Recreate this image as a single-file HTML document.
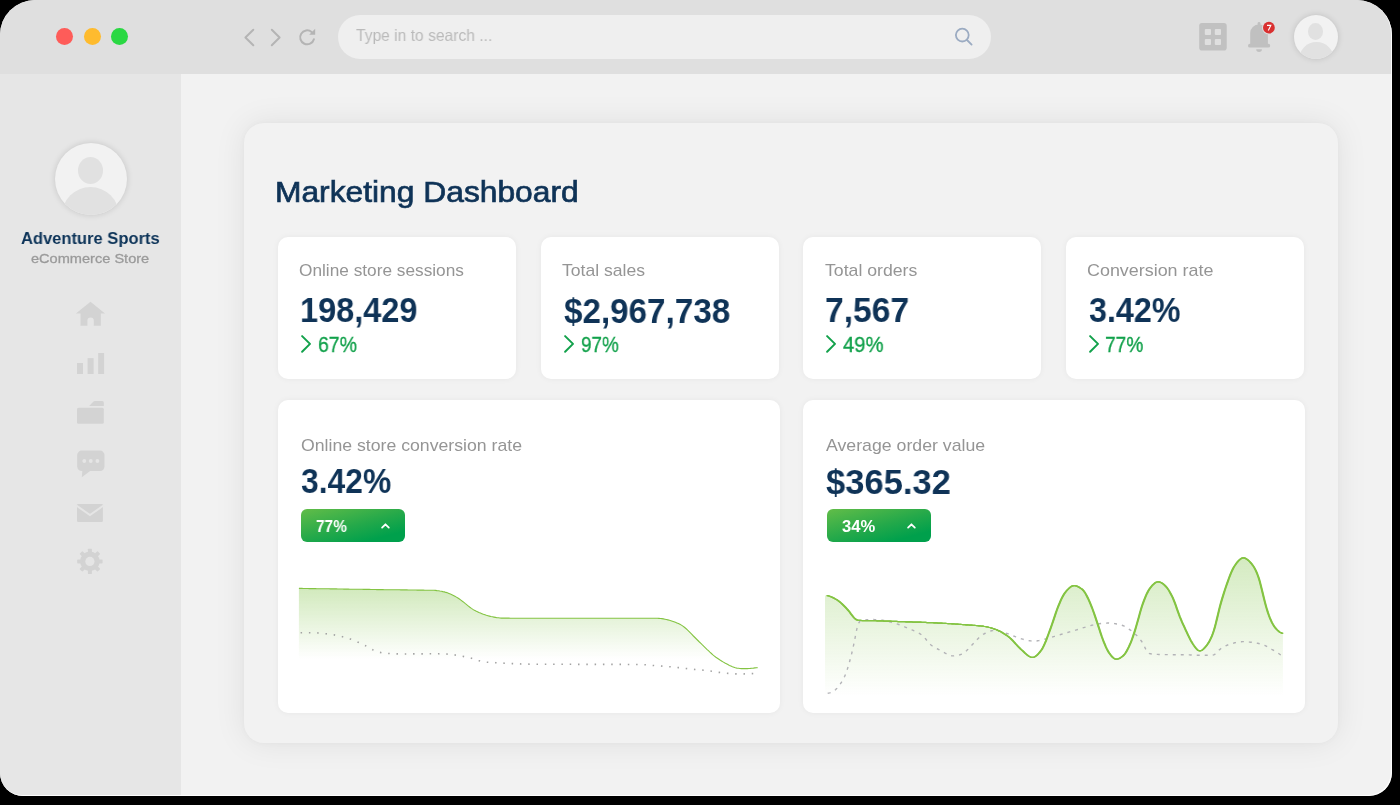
<!DOCTYPE html>
<html><head><meta charset="utf-8"><title>Marketing Dashboard</title>
<style>
html,body{margin:0;padding:0;background:#000;width:1400px;height:805px;overflow:hidden}
.win{position:absolute;left:0;top:0;width:1392px;height:796px;border-radius:35px 35px 23px 23px;overflow:hidden;background:#f2f2f2}
.abs{position:absolute}
.t{position:absolute;white-space:nowrap;line-height:1;font-family:'Liberation Sans', sans-serif;will-change:transform}
.titlebar{position:absolute;left:0;top:0;width:1392px;height:74px;background:#dfdfdf}
.sidebar{position:absolute;left:0;top:74px;width:181px;height:722px;background:#e6e6e6}
.dot{position:absolute;width:17px;height:17px;border-radius:50%}
.avatar{border-radius:50%;background:#f2f2f2;overflow:hidden;box-shadow:0 0 6px rgba(0,0,0,0.15)}
.panel{position:absolute;left:244px;top:123px;width:1094px;height:620px;border-radius:20px;background:#f2f2f2;box-shadow:0 0 6px rgba(0,0,0,0.03),0 0 32px rgba(0,0,0,0.08)}
.card{position:absolute;background:#fff;border-radius:10px;box-shadow:0 0 6px rgba(0,0,0,0.05)}
.badge{position:absolute;width:104px;height:33px;border-radius:6px;background:linear-gradient(165deg,#62bd48 0%,#25a94a 50%,#00a04c 82%)}
.edge{position:absolute;left:0;top:0;width:1392px;height:796px;border-radius:35px 35px 23px 23px;box-shadow:inset -1px -1px 0 rgba(255,255,255,0.9);pointer-events:none}
</style></head>
<body><div class="win">
<div class="titlebar"></div>
<div class="dot" style="left:55.9px;top:28.3px;background:#fe5c59"></div>
<div class="dot" style="left:83.5px;top:28.3px;background:#febb2e"></div>
<div class="dot" style="left:111px;top:28.3px;background:#2ad843"></div>
<svg class="abs" style="left:0;top:0" width="340" height="74" viewBox="0 0 340 74">
<g fill="none" stroke="#b4b4b4" stroke-width="2" stroke-linecap="round" stroke-linejoin="round">
<polyline points="253.3,29.8 245.4,37.5 253.3,45.2"/>
<polyline points="271.8,29.8 279.6,37.5 271.8,45.2"/>
<path d="M313.9 39.2 A7 7 0 1 1 311.6 31.9"/>
</g>
<polygon points="309.2,34.8 315.2,34.8 315.2,28.8" fill="#b4b4b4"/>
</svg>
<div class="abs" style="left:338px;top:15px;width:653px;height:44px;border-radius:22px;background:#efefef"></div>
<div class="t" style="left:355.90px;top:27.08px;font-size:16.5px;color:#bababa;font-weight:400;transform:scaleX(0.9461538461538462);transform-origin:0 0;">Type in to search ...</div>
<svg class="abs" style="left:950px;top:24px" width="28" height="26" viewBox="950 24 28 26">
<g fill="none" stroke="#9babc2" stroke-width="1.8" stroke-linecap="round">
<circle cx="962.3" cy="35.1" r="6.4"/>
<line x1="967" y1="40" x2="971.6" y2="44.6"/>
</g></svg>
<svg class="abs" style="left:1195px;top:18px" width="40" height="40" viewBox="1195 18 40 40">
<rect x="1199.2" y="23" width="27.5" height="27.6" rx="2.8" fill="#c1c1c1"/>
<g fill="#dfdfdf">
<rect x="1204.8" y="29" width="6.2" height="6" rx="1"/>
<rect x="1214.8" y="29" width="6.2" height="6" rx="1"/>
<rect x="1204.8" y="38.9" width="6.2" height="6.2" rx="1"/>
<rect x="1214.8" y="38.9" width="6.2" height="6.2" rx="1"/>
</g></svg>
<svg class="abs" style="left:1243px;top:18px" width="40" height="40" viewBox="1243 18 40 40">
<g fill="#c0c0c0">
<rect x="1257.6" y="22" width="2.9" height="4" rx="1.4"/>
<path d="M1250.2 44.5 L1250.2 33 A8.85 8.4 0 0 1 1267.9 33 L1267.9 44.5 Z"/>
<rect x="1248" y="43.8" width="22.2" height="3.8" rx="1.9"/>
<path d="M1256.2 49.2 L1261.9 49.2 Q1261.9 51.9 1259.05 51.9 Q1256.2 51.9 1256.2 49.2 Z"/>
</g>
<circle cx="1268.9" cy="27.7" r="6.9" fill="#dfdfdf"/>
<circle cx="1268.9" cy="27.7" r="5.9" fill="#d93030"/>
<path d="M1267 25.4 L1270.8 25.4 L1268.3 30.4" fill="none" stroke="#fff" stroke-width="1.1" stroke-linejoin="miter"/>
</svg>
<div class="abs avatar" style="left:1294px;top:15px;width:44px;height:44px">
<div class="abs" style="left:14.2px;top:8.3px;width:15.2px;height:16.6px;border-radius:50%;background:#e1e1e1"></div>
<div class="abs" style="left:4.5px;top:27.4px;width:35px;height:35px;border-radius:50%;background:#e1e1e1"></div>
</div>
<div class="sidebar"></div>
<div class="abs avatar" style="left:54.7px;top:142.7px;width:72px;height:72px">
<div class="abs" style="left:23.3px;top:14.8px;width:25px;height:26.5px;border-radius:50%;background:#e1e1e1"></div>
<div class="abs" style="left:7.5px;top:44.5px;width:57px;height:57px;border-radius:50%;background:#e1e1e1"></div>
</div>
<div class="t" style="left:21.20px;top:229.95px;font-size:17px;color:#0c3358;font-weight:700;transform:scaleX(0.972027972027972);transform-origin:0 0;">Adventure Sports</div>
<div class="t" style="left:31.10px;top:252.33px;font-size:13.5px;color:#9a9a9a;font-weight:400;transform:scaleX(1.0790909090909093);transform-origin:0 0;-webkit-text-stroke:0.3px #9a9a9a;">eCommerce Store</div>
<svg class="abs" style="left:60px;top:290px" width="60" height="300" viewBox="60 290 60 300">
<g fill="#d3d3d3">
<path d="M90.5 301.8 L105 313.6 L100.8 313.6 L100.8 325.8 L93.8 325.8 L93.8 320.6 A3.2 3.2 0 0 0 87.4 320.6 L87.4 325.8 L80.5 325.8 L80.5 313.6 L75.9 313.6 Z"/>
<rect x="77" y="363" width="6" height="11"/>
<rect x="87.6" y="358.1" width="6" height="15.9"/>
<rect x="98.2" y="353" width="5.9" height="21"/>
<path d="M89.2 405.9 L93 401.9 Q93.9 400.9 95 400.9 L102.3 400.9 Q103.8 400.9 103.8 402.4 L103.8 405.9 Z"/>
<rect x="77" y="407.8" width="26.8" height="16" rx="1.5"/>
<rect x="77.2" y="450.6" width="27.3" height="20.4" rx="4.5"/>
<polygon points="82.4,470 91.5,470 81.8,477.2"/>
<rect x="77" y="503.9" width="25.9" height="18" rx="1.2"/>
</g>
<g fill="#e5e5e5">
<circle cx="84.3" cy="461" r="1.9"/><circle cx="90.8" cy="461" r="1.9"/><circle cx="97.4" cy="461" r="1.9"/>
</g>
<polyline points="76,505.3 89.95,515 103.9,505.3" fill="none" stroke="#e5e5e5" stroke-width="2"/>
<g transform="translate(89.9 561.4)" fill="#d3d3d3">
<circle r="9.8"/>
<g id="tooth"><rect x="-2" y="-12.7" width="4" height="5" rx="0.6"/></g>
<use href="#tooth" transform="rotate(45)"/><use href="#tooth" transform="rotate(90)"/><use href="#tooth" transform="rotate(135)"/>
<use href="#tooth" transform="rotate(180)"/><use href="#tooth" transform="rotate(225)"/><use href="#tooth" transform="rotate(270)"/><use href="#tooth" transform="rotate(315)"/>
<circle r="4.6" fill="#e5e5e5"/>
</g>
</svg>
<div class="panel"></div>
<div class="t" style="left:275.23px;top:176.75px;font-size:29.7px;color:#0f3357;font-weight:400;transform:scaleX(1.0698581560283686);transform-origin:0 0;-webkit-text-stroke:0.7px #0f3357;">Marketing Dashboard</div>
<div class="card" style="left:278px;top:237px;width:238px;height:141.5px"></div>
<div class="t" style="left:298.90px;top:262.33px;font-size:16.2px;color:#959595;font-weight:400;transform:scaleX(1.0658064516129035);transform-origin:0 0;">Online store sessions</div>
<div class="t" style="left:299.88px;top:292.72px;font-size:35.5px;color:#0f3357;font-weight:700;transform:scaleX(0.9157480314960631);transform-origin:0 0;">198,429</div>
<svg class="abs" style="left:297.9px;top:332px" width="16" height="24" viewBox="0 0 16 24"><polyline points="4.1,4.1 12,11.9 4.1,19.7" fill="none" stroke="#12a14b" stroke-width="2" stroke-linecap="round" stroke-linejoin="round"/></svg>
<div class="t" style="left:317.70px;top:332.60px;font-size:22.7px;color:#12a14b;font-weight:400;transform:scaleX(0.8577777777777783);transform-origin:0 0;-webkit-text-stroke:0.35px #12a14b;">67%</div>
<div class="card" style="left:541px;top:237px;width:238px;height:141.5px"></div>
<div class="t" style="left:562.40px;top:262.33px;font-size:16.2px;color:#959595;font-weight:400;transform:scaleX(1.085714285714286);transform-origin:0 0;">Total sales</div>
<div class="t" style="left:563.90px;top:293.82px;font-size:35.5px;color:#0f3357;font-weight:700;transform:scaleX(0.9353932584269663);transform-origin:0 0;">$2,967,738</div>
<svg class="abs" style="left:560.9px;top:332px" width="16" height="24" viewBox="0 0 16 24"><polyline points="4.1,4.1 12,11.9 4.1,19.7" fill="none" stroke="#12a14b" stroke-width="2" stroke-linecap="round" stroke-linejoin="round"/></svg>
<div class="t" style="left:580.70px;top:332.60px;font-size:22.7px;color:#12a14b;font-weight:400;transform:scaleX(0.8311111111111106);transform-origin:0 0;-webkit-text-stroke:0.35px #12a14b;">97%</div>
<div class="card" style="left:803px;top:237px;width:238px;height:141.5px"></div>
<div class="t" style="left:825.30px;top:262.33px;font-size:16.2px;color:#959595;font-weight:400;transform:scaleX(1.0917647058823536);transform-origin:0 0;">Total orders</div>
<div class="t" style="left:825.15px;top:292.93px;font-size:35.5px;color:#0f3357;font-weight:700;transform:scaleX(0.9482758620689655);transform-origin:0 0;">7,567</div>
<svg class="abs" style="left:823.4px;top:332px" width="16" height="24" viewBox="0 0 16 24"><polyline points="4.1,4.1 12,11.9 4.1,19.7" fill="none" stroke="#12a14b" stroke-width="2" stroke-linecap="round" stroke-linejoin="round"/></svg>
<div class="t" style="left:843.10px;top:332.60px;font-size:22.7px;color:#12a14b;font-weight:400;transform:scaleX(0.8933333333333319);transform-origin:0 0;-webkit-text-stroke:0.35px #12a14b;">49%</div>
<div class="card" style="left:1066px;top:237px;width:238px;height:141.5px"></div>
<div class="t" style="left:1086.90px;top:262.33px;font-size:16.2px;color:#959595;font-weight:400;transform:scaleX(1.106140350877192);transform-origin:0 0;">Conversion rate</div>
<div class="t" style="left:1088.70px;top:292.93px;font-size:35.5px;color:#0f3357;font-weight:700;transform:scaleX(0.9099009900990086);transform-origin:0 0;">3.42%</div>
<svg class="abs" style="left:1086.4px;top:332px" width="16" height="24" viewBox="0 0 16 24"><polyline points="4.1,4.1 12,11.9 4.1,19.7" fill="none" stroke="#12a14b" stroke-width="2" stroke-linecap="round" stroke-linejoin="round"/></svg>
<div class="t" style="left:1105.40px;top:332.60px;font-size:22.7px;color:#12a14b;font-weight:400;transform:scaleX(0.8444444444444444);transform-origin:0 0;-webkit-text-stroke:0.35px #12a14b;">77%</div>
<div class="card" style="left:278px;top:399.5px;width:501.5px;height:313.5px"></div>
<div class="card" style="left:803px;top:399.5px;width:501.5px;height:313.5px"></div>
<div class="t" style="left:300.90px;top:437.23px;font-size:16.2px;color:#959595;font-weight:400;transform:scaleX(1.0916256157635469);transform-origin:0 0;">Online store conversion rate</div>
<div class="t" style="left:826.30px;top:436.83px;font-size:16.2px;color:#959595;font-weight:400;transform:scaleX(1.0938356164383565);transform-origin:0 0;">Average order value</div>
<div class="t" style="left:300.90px;top:464.02px;font-size:35.5px;color:#0f3357;font-weight:700;transform:scaleX(0.8970297029702973);transform-origin:0 0;">3.42%</div>
<div class="t" style="left:825.90px;top:464.62px;font-size:35.5px;color:#0f3357;font-weight:700;transform:scaleX(0.9734375000000002);transform-origin:0 0;">$365.32</div>
<div class="badge" style="left:301px;top:509.2px"></div>
<div class="t" style="left:316.00px;top:517.96px;font-size:16.4px;color:#fff;font-weight:700;transform:scaleX(0.9424242424242432);transform-origin:0 0;">77%</div>
<svg class="abs" style="left:379px;top:520px" width="14" height="12" viewBox="0 0 14 12"><polyline points="3.1,7.6 6.45,4.3 9.8,7.6" fill="none" stroke="#fff" stroke-width="1.8" stroke-linecap="round" stroke-linejoin="round"/></svg>
<div class="badge" style="left:827px;top:509.2px"></div>
<div class="t" style="left:841.70px;top:517.96px;font-size:16.4px;color:#fff;font-weight:700;transform:scaleX(1.0121212121212115);transform-origin:0 0;">34%</div>
<svg class="abs" style="left:905px;top:520px" width="14" height="12" viewBox="0 0 14 12"><polyline points="3.1,7.6 6.45,4.3 9.8,7.6" fill="none" stroke="#fff" stroke-width="1.8" stroke-linecap="round" stroke-linejoin="round"/></svg>
<svg class="abs" style="left:0;top:0" width="1400" height="805" viewBox="0 0 1400 805">
<defs>
<linearGradient id="g1" gradientUnits="userSpaceOnUse" x1="0" y1="588" x2="0" y2="659">
<stop offset="0" stop-color="#80c346" stop-opacity="0.36"/><stop offset="1" stop-color="#80c346" stop-opacity="0"/></linearGradient>
<linearGradient id="g2" gradientUnits="userSpaceOnUse" x1="0" y1="557" x2="0" y2="696">
<stop offset="0" stop-color="#80c346" stop-opacity="0.34"/><stop offset="1" stop-color="#80c346" stop-opacity="0"/></linearGradient>
</defs>
<path d="M298.9 588.4 L300.4 588.4 L301.9 588.4 L303.4 588.5 L304.9 588.5 L306.4 588.5 L307.9 588.5 L309.4 588.6 L310.9 588.6 L312.4 588.6 L313.9 588.6 L315.4 588.6 L316.9 588.7 L318.4 588.7 L319.9 588.7 L321.4 588.7 L322.9 588.7 L324.4 588.8 L325.9 588.8 L327.4 588.8 L328.9 588.8 L330.4 588.9 L331.9 588.9 L333.4 588.9 L334.9 588.9 L336.4 588.9 L337.9 589.0 L339.4 589.0 L340.9 589.0 L342.4 589.0 L343.9 589.1 L345.4 589.1 L346.9 589.1 L348.4 589.1 L349.9 589.2 L351.4 589.2 L352.9 589.2 L354.4 589.2 L355.9 589.2 L357.4 589.3 L358.9 589.3 L360.4 589.3 L361.9 589.3 L363.4 589.4 L364.9 589.4 L366.4 589.4 L367.9 589.4 L369.4 589.4 L370.9 589.5 L372.4 589.5 L373.9 589.5 L375.4 589.5 L376.9 589.6 L378.4 589.6 L379.9 589.6 L381.4 589.6 L382.9 589.6 L384.4 589.7 L385.9 589.7 L387.4 589.7 L388.9 589.7 L390.4 589.7 L391.9 589.8 L393.4 589.8 L394.9 589.8 L396.4 589.8 L397.9 589.8 L399.4 589.8 L400.9 589.9 L402.4 589.9 L403.9 589.9 L405.4 589.9 L406.9 589.9 L408.4 590.0 L409.9 590.0 L411.4 590.0 L412.9 590.0 L414.4 590.0 L415.9 590.0 L417.4 590.1 L418.9 590.1 L420.4 590.1 L421.9 590.1 L423.4 590.1 L424.9 590.2 L426.4 590.2 L427.9 590.2 L429.4 590.2 L430.9 590.2 L432.4 590.3 L433.9 590.3 L435.4 590.4 L436.9 590.6 L438.4 590.7 L439.9 591.0 L441.4 591.2 L442.9 591.6 L444.4 591.9 L445.9 592.4 L447.4 592.8 L448.9 593.4 L450.4 594.0 L451.9 594.7 L453.4 595.4 L454.9 596.2 L456.4 597.1 L457.9 598.0 L459.4 599.0 L460.9 600.1 L462.4 601.3 L463.9 602.4 L465.4 603.7 L466.9 604.9 L468.4 606.1 L469.9 607.3 L471.4 608.4 L472.9 609.4 L474.4 610.3 L475.9 611.1 L477.4 611.8 L478.9 612.5 L480.4 613.1 L481.9 613.7 L483.4 614.3 L484.9 614.8 L486.4 615.3 L487.9 615.7 L489.4 616.1 L490.9 616.5 L492.4 616.8 L493.9 617.1 L495.4 617.4 L496.9 617.7 L498.4 617.8 L499.9 618.0 L501.4 618.1 L502.9 618.1 L504.4 618.1 L505.9 618.1 L507.4 618.1 L508.9 618.1 L510.4 618.2 L511.9 618.2 L513.4 618.2 L514.9 618.2 L516.4 618.2 L517.9 618.2 L519.4 618.2 L520.9 618.2 L522.4 618.2 L523.9 618.2 L525.4 618.2 L526.9 618.2 L528.4 618.2 L529.9 618.2 L531.4 618.2 L532.9 618.2 L534.4 618.2 L535.9 618.2 L537.4 618.2 L538.9 618.2 L540.4 618.2 L541.9 618.2 L543.4 618.2 L544.9 618.2 L546.4 618.2 L547.9 618.2 L549.4 618.2 L550.9 618.2 L552.4 618.2 L553.9 618.2 L555.4 618.2 L556.9 618.2 L558.4 618.2 L559.9 618.2 L561.4 618.2 L562.9 618.2 L564.4 618.2 L565.9 618.2 L567.4 618.2 L568.9 618.2 L570.4 618.2 L571.9 618.2 L573.4 618.2 L574.9 618.2 L576.4 618.2 L577.9 618.2 L579.4 618.2 L580.9 618.2 L582.4 618.2 L583.9 618.2 L585.4 618.2 L586.9 618.2 L588.4 618.2 L589.9 618.2 L591.4 618.2 L592.9 618.2 L594.4 618.2 L595.9 618.2 L597.4 618.2 L598.9 618.2 L600.4 618.2 L601.9 618.2 L603.4 618.2 L604.9 618.2 L606.4 618.2 L607.9 618.2 L609.4 618.2 L610.9 618.2 L612.4 618.2 L613.9 618.2 L615.4 618.2 L616.9 618.2 L618.4 618.2 L619.9 618.2 L621.4 618.2 L622.9 618.2 L624.4 618.2 L625.9 618.2 L627.4 618.2 L628.9 618.2 L630.4 618.2 L631.9 618.2 L633.4 618.2 L634.9 618.2 L636.4 618.2 L637.9 618.2 L639.4 618.2 L640.9 618.2 L642.4 618.2 L643.9 618.2 L645.4 618.2 L646.9 618.2 L648.4 618.2 L649.9 618.2 L651.4 618.2 L652.9 618.2 L654.4 618.2 L655.9 618.2 L657.4 618.3 L658.9 618.4 L660.4 618.5 L661.9 618.6 L663.4 618.9 L664.9 619.2 L666.4 619.5 L667.9 619.9 L669.4 620.3 L670.9 620.7 L672.4 621.2 L673.9 621.7 L675.4 622.3 L676.9 622.9 L678.4 623.5 L679.9 624.3 L681.4 625.1 L682.9 626.1 L684.4 627.3 L685.9 628.5 L687.4 629.9 L688.9 631.4 L690.4 632.9 L691.9 634.4 L693.4 636.0 L694.9 637.5 L696.4 639.0 L697.9 640.5 L699.4 642.0 L700.9 643.4 L702.4 644.9 L703.9 646.3 L705.4 647.8 L706.9 649.3 L708.4 650.7 L709.9 652.2 L711.4 653.5 L712.9 654.9 L714.4 656.1 L715.9 657.3 L717.4 658.3 L718.9 659.3 L720.4 660.3 L721.9 661.2 L723.4 662.1 L724.9 663.0 L726.4 663.8 L727.9 664.6 L729.4 665.4 L730.9 666.0 L732.4 666.7 L733.9 667.2 L735.4 667.7 L736.9 668.1 L738.4 668.3 L739.9 668.5 L741.4 668.6 L742.9 668.6 L744.4 668.6 L745.9 668.6 L747.4 668.6 L748.9 668.5 L750.4 668.4 L751.9 668.2 L753.4 668.1 L754.9 667.9 L756.4 667.7 L757.6 667.6 L757.6 672 L298.9 672 Z" fill="url(#g1)"/>
<path d="M300.6 632.8 L302.1 632.8 L303.6 632.8 L305.1 632.8 L306.6 632.8 L308.1 632.8 L309.6 632.8 L311.1 632.8 L312.6 632.8 L314.1 632.9 L315.6 632.9 L317.1 632.9 L318.6 633.0 L320.1 633.1 L321.6 633.3 L323.1 633.4 L324.6 633.6 L326.1 633.8 L327.6 634.0 L329.1 634.1 L330.6 634.3 L332.1 634.6 L333.6 634.8 L335.1 635.1 L336.6 635.4 L338.1 635.7 L339.6 636.0 L341.1 636.4 L342.6 636.8 L344.1 637.2 L345.6 637.6 L347.1 638.0 L348.6 638.5 L350.1 639.0 L351.6 639.5 L353.1 640.1 L354.6 640.6 L356.1 641.2 L357.6 641.9 L359.1 642.5 L360.6 643.2 L362.1 643.9 L363.6 644.7 L365.1 645.5 L366.6 646.3 L368.1 647.1 L369.6 648.0 L371.1 648.8 L372.6 649.7 L374.1 650.4 L375.6 651.1 L377.1 651.7 L378.6 652.1 L380.1 652.4 L381.6 652.7 L383.1 652.9 L384.6 653.1 L386.1 653.3 L387.6 653.4 L389.1 653.5 L390.6 653.6 L392.1 653.7 L393.6 653.8 L395.1 653.8 L396.6 653.9 L398.1 653.9 L399.6 654.0 L401.1 654.0 L402.6 654.0 L404.1 654.0 L405.6 654.0 L407.1 654.0 L408.6 654.0 L410.1 654.0 L411.6 654.0 L413.1 653.9 L414.6 653.9 L416.1 653.9 L417.6 653.9 L419.1 653.9 L420.6 653.9 L422.1 653.9 L423.6 653.9 L425.1 653.8 L426.6 653.8 L428.1 653.8 L429.6 653.8 L431.1 653.8 L432.6 653.8 L434.1 653.8 L435.6 653.8 L437.1 653.8 L438.6 653.8 L440.1 653.9 L441.6 653.9 L443.1 653.9 L444.6 654.0 L446.1 654.0 L447.6 654.1 L449.1 654.2 L450.6 654.4 L452.1 654.5 L453.6 654.7 L455.1 655.0 L456.6 655.2 L458.1 655.5 L459.6 655.8 L461.1 656.1 L462.6 656.3 L464.1 656.6 L465.6 656.9 L467.1 657.2 L468.6 657.5 L470.1 657.9 L471.6 658.3 L473.1 658.7 L474.6 659.2 L476.1 659.7 L477.6 660.2 L479.1 660.7 L480.6 661.2 L482.1 661.6 L483.6 661.9 L485.1 662.1 L486.6 662.2 L488.1 662.3 L489.6 662.4 L491.1 662.5 L492.6 662.6 L494.1 662.6 L495.6 662.7 L497.1 662.8 L498.6 662.9 L500.1 662.9 L501.6 663.0 L503.1 663.1 L504.6 663.2 L506.1 663.3 L507.6 663.4 L509.1 663.4 L510.6 663.5 L512.1 663.6 L513.6 663.7 L515.1 663.7 L516.6 663.8 L518.1 663.9 L519.6 663.9 L521.1 664.0 L522.6 664.0 L524.1 664.0 L525.6 664.1 L527.1 664.1 L528.6 664.1 L530.1 664.2 L531.6 664.2 L533.1 664.2 L534.6 664.2 L536.1 664.2 L537.6 664.2 L539.1 664.2 L540.6 664.2 L542.1 664.3 L543.6 664.3 L545.1 664.3 L546.6 664.3 L548.1 664.3 L549.6 664.3 L551.1 664.3 L552.6 664.3 L554.1 664.3 L555.6 664.3 L557.1 664.3 L558.6 664.3 L560.1 664.3 L561.6 664.3 L563.1 664.3 L564.6 664.3 L566.1 664.3 L567.6 664.3 L569.1 664.3 L570.6 664.3 L572.1 664.3 L573.6 664.3 L575.1 664.3 L576.6 664.4 L578.1 664.4 L579.6 664.4 L581.1 664.4 L582.6 664.4 L584.1 664.4 L585.6 664.4 L587.1 664.4 L588.6 664.4 L590.1 664.4 L591.6 664.4 L593.1 664.4 L594.6 664.4 L596.1 664.4 L597.6 664.4 L599.1 664.4 L600.6 664.4 L602.1 664.4 L603.6 664.4 L605.1 664.4 L606.6 664.4 L608.1 664.4 L609.6 664.4 L611.1 664.4 L612.6 664.4 L614.1 664.4 L615.6 664.4 L617.1 664.4 L618.6 664.4 L620.1 664.4 L621.6 664.4 L623.1 664.4 L624.6 664.4 L626.1 664.5 L627.6 664.5 L629.1 664.5 L630.6 664.5 L632.1 664.5 L633.6 664.5 L635.1 664.5 L636.6 664.5 L638.1 664.5 L639.6 664.5 L641.1 664.6 L642.6 664.6 L644.1 664.7 L645.6 664.8 L647.1 664.9 L648.6 665.1 L650.1 665.2 L651.6 665.3 L653.1 665.5 L654.6 665.6 L656.1 665.7 L657.6 665.8 L659.1 665.9 L660.6 666.0 L662.1 666.1 L663.6 666.2 L665.1 666.3 L666.6 666.4 L668.1 666.6 L669.6 666.7 L671.1 666.8 L672.6 666.9 L674.1 667.1 L675.6 667.2 L677.1 667.4 L678.6 667.6 L680.1 667.7 L681.6 667.9 L683.1 668.1 L684.6 668.3 L686.1 668.5 L687.6 668.7 L689.1 668.9 L690.6 669.0 L692.1 669.2 L693.6 669.3 L695.1 669.5 L696.6 669.6 L698.1 669.7 L699.6 669.8 L701.1 670.0 L702.6 670.1 L704.1 670.2 L705.6 670.4 L707.1 670.6 L708.6 670.7 L710.1 671.0 L711.6 671.2 L713.1 671.4 L714.6 671.7 L716.1 671.9 L717.6 672.2 L719.1 672.4 L720.6 672.6 L722.1 672.8 L723.6 673.0 L725.1 673.1 L726.6 673.3 L728.1 673.4 L729.6 673.5 L731.1 673.6 L732.6 673.8 L734.1 673.8 L735.6 673.9 L737.1 673.9 L738.6 674.0 L740.1 674.0 L741.6 674.0 L743.1 674.0 L744.6 673.9 L746.1 673.9 L747.6 673.8 L749.1 673.8 L750.6 673.7 L752.1 673.6 L753.6 673.5 L755.1 673.4 L756.2 673.4" fill="none" stroke="#a3a3a3" stroke-width="1.6" stroke-dasharray="1.5 6.8"/>
<path d="M298.9 588.4 L300.4 588.4 L301.9 588.4 L303.4 588.5 L304.9 588.5 L306.4 588.5 L307.9 588.5 L309.4 588.6 L310.9 588.6 L312.4 588.6 L313.9 588.6 L315.4 588.6 L316.9 588.7 L318.4 588.7 L319.9 588.7 L321.4 588.7 L322.9 588.7 L324.4 588.8 L325.9 588.8 L327.4 588.8 L328.9 588.8 L330.4 588.9 L331.9 588.9 L333.4 588.9 L334.9 588.9 L336.4 588.9 L337.9 589.0 L339.4 589.0 L340.9 589.0 L342.4 589.0 L343.9 589.1 L345.4 589.1 L346.9 589.1 L348.4 589.1 L349.9 589.2 L351.4 589.2 L352.9 589.2 L354.4 589.2 L355.9 589.2 L357.4 589.3 L358.9 589.3 L360.4 589.3 L361.9 589.3 L363.4 589.4 L364.9 589.4 L366.4 589.4 L367.9 589.4 L369.4 589.4 L370.9 589.5 L372.4 589.5 L373.9 589.5 L375.4 589.5 L376.9 589.6 L378.4 589.6 L379.9 589.6 L381.4 589.6 L382.9 589.6 L384.4 589.7 L385.9 589.7 L387.4 589.7 L388.9 589.7 L390.4 589.7 L391.9 589.8 L393.4 589.8 L394.9 589.8 L396.4 589.8 L397.9 589.8 L399.4 589.8 L400.9 589.9 L402.4 589.9 L403.9 589.9 L405.4 589.9 L406.9 589.9 L408.4 590.0 L409.9 590.0 L411.4 590.0 L412.9 590.0 L414.4 590.0 L415.9 590.0 L417.4 590.1 L418.9 590.1 L420.4 590.1 L421.9 590.1 L423.4 590.1 L424.9 590.2 L426.4 590.2 L427.9 590.2 L429.4 590.2 L430.9 590.2 L432.4 590.3 L433.9 590.3 L435.4 590.4 L436.9 590.6 L438.4 590.7 L439.9 591.0 L441.4 591.2 L442.9 591.6 L444.4 591.9 L445.9 592.4 L447.4 592.8 L448.9 593.4 L450.4 594.0 L451.9 594.7 L453.4 595.4 L454.9 596.2 L456.4 597.1 L457.9 598.0 L459.4 599.0 L460.9 600.1 L462.4 601.3 L463.9 602.4 L465.4 603.7 L466.9 604.9 L468.4 606.1 L469.9 607.3 L471.4 608.4 L472.9 609.4 L474.4 610.3 L475.9 611.1 L477.4 611.8 L478.9 612.5 L480.4 613.1 L481.9 613.7 L483.4 614.3 L484.9 614.8 L486.4 615.3 L487.9 615.7 L489.4 616.1 L490.9 616.5 L492.4 616.8 L493.9 617.1 L495.4 617.4 L496.9 617.7 L498.4 617.8 L499.9 618.0 L501.4 618.1 L502.9 618.1 L504.4 618.1 L505.9 618.1 L507.4 618.1 L508.9 618.1 L510.4 618.2 L511.9 618.2 L513.4 618.2 L514.9 618.2 L516.4 618.2 L517.9 618.2 L519.4 618.2 L520.9 618.2 L522.4 618.2 L523.9 618.2 L525.4 618.2 L526.9 618.2 L528.4 618.2 L529.9 618.2 L531.4 618.2 L532.9 618.2 L534.4 618.2 L535.9 618.2 L537.4 618.2 L538.9 618.2 L540.4 618.2 L541.9 618.2 L543.4 618.2 L544.9 618.2 L546.4 618.2 L547.9 618.2 L549.4 618.2 L550.9 618.2 L552.4 618.2 L553.9 618.2 L555.4 618.2 L556.9 618.2 L558.4 618.2 L559.9 618.2 L561.4 618.2 L562.9 618.2 L564.4 618.2 L565.9 618.2 L567.4 618.2 L568.9 618.2 L570.4 618.2 L571.9 618.2 L573.4 618.2 L574.9 618.2 L576.4 618.2 L577.9 618.2 L579.4 618.2 L580.9 618.2 L582.4 618.2 L583.9 618.2 L585.4 618.2 L586.9 618.2 L588.4 618.2 L589.9 618.2 L591.4 618.2 L592.9 618.2 L594.4 618.2 L595.9 618.2 L597.4 618.2 L598.9 618.2 L600.4 618.2 L601.9 618.2 L603.4 618.2 L604.9 618.2 L606.4 618.2 L607.9 618.2 L609.4 618.2 L610.9 618.2 L612.4 618.2 L613.9 618.2 L615.4 618.2 L616.9 618.2 L618.4 618.2 L619.9 618.2 L621.4 618.2 L622.9 618.2 L624.4 618.2 L625.9 618.2 L627.4 618.2 L628.9 618.2 L630.4 618.2 L631.9 618.2 L633.4 618.2 L634.9 618.2 L636.4 618.2 L637.9 618.2 L639.4 618.2 L640.9 618.2 L642.4 618.2 L643.9 618.2 L645.4 618.2 L646.9 618.2 L648.4 618.2 L649.9 618.2 L651.4 618.2 L652.9 618.2 L654.4 618.2 L655.9 618.2 L657.4 618.3 L658.9 618.4 L660.4 618.5 L661.9 618.6 L663.4 618.9 L664.9 619.2 L666.4 619.5 L667.9 619.9 L669.4 620.3 L670.9 620.7 L672.4 621.2 L673.9 621.7 L675.4 622.3 L676.9 622.9 L678.4 623.5 L679.9 624.3 L681.4 625.1 L682.9 626.1 L684.4 627.3 L685.9 628.5 L687.4 629.9 L688.9 631.4 L690.4 632.9 L691.9 634.4 L693.4 636.0 L694.9 637.5 L696.4 639.0 L697.9 640.5 L699.4 642.0 L700.9 643.4 L702.4 644.9 L703.9 646.3 L705.4 647.8 L706.9 649.3 L708.4 650.7 L709.9 652.2 L711.4 653.5 L712.9 654.9 L714.4 656.1 L715.9 657.3 L717.4 658.3 L718.9 659.3 L720.4 660.3 L721.9 661.2 L723.4 662.1 L724.9 663.0 L726.4 663.8 L727.9 664.6 L729.4 665.4 L730.9 666.0 L732.4 666.7 L733.9 667.2 L735.4 667.7 L736.9 668.1 L738.4 668.3 L739.9 668.5 L741.4 668.6 L742.9 668.6 L744.4 668.6 L745.9 668.6 L747.4 668.6 L748.9 668.5 L750.4 668.4 L751.9 668.2 L753.4 668.1 L754.9 667.9 L756.4 667.7 L757.6 667.6" fill="none" stroke="#84c443" stroke-width="1.1"/>
<path d="M826.9 595.6 L827.9 595.7 L828.9 596.0 L829.9 596.3 L830.9 596.7 L831.9 597.2 L832.9 597.6 L833.9 598.1 L834.9 598.7 L835.9 599.2 L836.9 599.8 L837.9 600.5 L838.9 601.2 L839.9 602.0 L840.9 602.9 L841.9 603.8 L842.9 604.8 L843.9 605.8 L844.9 606.8 L845.9 607.8 L846.9 608.9 L847.9 610.0 L848.9 611.2 L849.9 612.4 L850.9 613.8 L851.9 615.1 L852.9 616.4 L853.9 617.6 L854.9 618.6 L855.9 619.4 L856.9 619.9 L857.9 620.2 L858.9 620.3 L859.9 620.4 L860.9 620.4 L861.9 620.5 L862.9 620.5 L863.9 620.5 L864.9 620.5 L865.9 620.5 L866.9 620.6 L867.9 620.6 L868.9 620.6 L869.9 620.6 L870.9 620.6 L871.9 620.6 L872.9 620.7 L873.9 620.7 L874.9 620.7 L875.9 620.7 L876.9 620.8 L877.9 620.8 L878.9 620.8 L879.9 620.9 L880.9 620.9 L881.9 620.9 L882.9 620.9 L883.9 621.0 L884.9 621.0 L885.9 621.0 L886.9 621.1 L887.9 621.1 L888.9 621.2 L889.9 621.2 L890.9 621.2 L891.9 621.3 L892.9 621.3 L893.9 621.3 L894.9 621.4 L895.9 621.4 L896.9 621.4 L897.9 621.5 L898.9 621.5 L899.9 621.5 L900.9 621.6 L901.9 621.6 L902.9 621.6 L903.9 621.7 L904.9 621.7 L905.9 621.8 L906.9 621.8 L907.9 621.8 L908.9 621.8 L909.9 621.9 L910.9 621.9 L911.9 621.9 L912.9 622.0 L913.9 622.0 L914.9 622.0 L915.9 622.1 L916.9 622.1 L917.9 622.1 L918.9 622.2 L919.9 622.2 L920.9 622.2 L921.9 622.3 L922.9 622.3 L923.9 622.4 L924.9 622.4 L925.9 622.4 L926.9 622.5 L927.9 622.5 L928.9 622.6 L929.9 622.6 L930.9 622.6 L931.9 622.7 L932.9 622.7 L933.9 622.8 L934.9 622.8 L935.9 622.9 L936.9 622.9 L937.9 623.0 L938.9 623.0 L939.9 623.1 L940.9 623.1 L941.9 623.2 L942.9 623.3 L943.9 623.3 L944.9 623.4 L945.9 623.4 L946.9 623.5 L947.9 623.6 L948.9 623.6 L949.9 623.7 L950.9 623.7 L951.9 623.8 L952.9 623.9 L953.9 623.9 L954.9 624.0 L955.9 624.1 L956.9 624.1 L957.9 624.2 L958.9 624.3 L959.9 624.3 L960.9 624.4 L961.9 624.5 L962.9 624.6 L963.9 624.6 L964.9 624.7 L965.9 624.8 L966.9 624.9 L967.9 624.9 L968.9 625.0 L969.9 625.1 L970.9 625.1 L971.9 625.2 L972.9 625.3 L973.9 625.4 L974.9 625.4 L975.9 625.5 L976.9 625.6 L977.9 625.7 L978.9 625.8 L979.9 625.9 L980.9 626.0 L981.9 626.1 L982.9 626.2 L983.9 626.4 L984.9 626.5 L985.9 626.7 L986.9 626.8 L987.9 627.0 L988.9 627.3 L989.9 627.5 L990.9 627.8 L991.9 628.1 L992.9 628.5 L993.9 628.8 L994.9 629.2 L995.9 629.5 L996.9 629.9 L997.9 630.4 L998.9 630.8 L999.9 631.3 L1000.9 631.8 L1001.9 632.4 L1002.9 633.0 L1003.9 633.6 L1004.9 634.2 L1005.9 634.9 L1006.9 635.5 L1007.9 636.3 L1008.9 637.0 L1009.9 637.9 L1010.9 638.8 L1011.9 639.8 L1012.9 640.8 L1013.9 641.9 L1014.9 643.0 L1015.9 644.1 L1016.9 645.2 L1017.9 646.3 L1018.9 647.3 L1019.9 648.2 L1020.9 649.2 L1021.9 650.1 L1022.9 651.0 L1023.9 652.0 L1024.9 653.0 L1025.9 653.9 L1026.9 654.8 L1027.9 655.6 L1028.9 656.2 L1029.9 656.8 L1030.9 657.2 L1031.9 657.4 L1032.9 657.4 L1033.9 657.2 L1034.9 656.8 L1035.9 656.1 L1036.9 655.3 L1037.9 654.3 L1038.9 653.2 L1039.9 652.0 L1040.9 650.7 L1041.9 649.3 L1042.9 647.5 L1043.9 645.5 L1044.9 643.3 L1045.9 640.9 L1046.9 638.3 L1047.9 635.6 L1048.9 632.9 L1049.9 630.2 L1050.9 627.5 L1051.9 624.6 L1052.9 621.7 L1053.9 618.7 L1054.9 615.7 L1055.9 612.8 L1056.9 609.9 L1057.9 607.3 L1058.9 604.8 L1059.9 602.4 L1060.9 600.1 L1061.9 598.0 L1062.9 596.1 L1063.9 594.4 L1064.9 592.9 L1065.9 591.6 L1066.9 590.4 L1067.9 589.4 L1068.9 588.4 L1069.9 587.5 L1070.9 586.8 L1071.9 586.2 L1072.9 585.9 L1073.9 585.7 L1074.9 585.7 L1075.9 585.9 L1076.9 586.2 L1077.9 586.6 L1078.9 587.1 L1079.9 587.7 L1080.9 588.4 L1081.9 589.1 L1082.9 590.0 L1083.9 591.2 L1084.9 592.5 L1085.9 594.2 L1086.9 596.1 L1087.9 598.1 L1088.9 600.3 L1089.9 602.5 L1090.9 604.9 L1091.9 607.4 L1092.9 610.1 L1093.9 612.9 L1094.9 615.8 L1095.9 618.7 L1096.9 621.7 L1097.9 624.7 L1098.9 627.8 L1099.9 630.9 L1100.9 634.0 L1101.9 636.9 L1102.9 639.6 L1103.9 642.2 L1104.9 644.6 L1105.9 646.9 L1106.9 649.0 L1107.9 650.9 L1108.9 652.6 L1109.9 654.0 L1110.9 655.3 L1111.9 656.5 L1112.9 657.5 L1113.9 658.3 L1114.9 658.9 L1115.9 659.2 L1116.9 659.2 L1117.9 659.0 L1118.9 658.6 L1119.9 658.1 L1120.9 657.5 L1121.9 656.8 L1122.9 656.0 L1123.9 655.0 L1124.9 653.8 L1125.9 652.3 L1126.9 650.6 L1127.9 648.7 L1128.9 646.7 L1129.9 644.5 L1130.9 642.2 L1131.9 639.6 L1132.9 636.8 L1133.9 633.8 L1134.9 630.7 L1135.9 627.4 L1136.9 623.9 L1137.9 620.4 L1138.9 616.8 L1139.9 613.2 L1140.9 609.7 L1141.9 606.4 L1142.9 603.5 L1143.9 600.7 L1144.9 598.2 L1145.9 595.8 L1146.9 593.6 L1147.9 591.6 L1148.9 589.9 L1149.9 588.4 L1150.9 587.1 L1151.9 585.9 L1152.9 584.8 L1153.9 583.9 L1154.9 583.1 L1155.9 582.4 L1156.9 582.0 L1157.9 581.8 L1158.9 581.8 L1159.9 582.1 L1160.9 582.5 L1161.9 583.1 L1162.9 583.8 L1163.9 584.6 L1164.9 585.5 L1165.9 586.5 L1166.9 587.6 L1167.9 589.0 L1168.9 590.5 L1169.9 592.2 L1170.9 594.1 L1171.9 596.0 L1172.9 598.1 L1173.9 600.5 L1174.9 603.0 L1175.9 605.8 L1176.9 608.7 L1177.9 611.5 L1178.9 614.3 L1179.9 616.9 L1180.9 619.3 L1181.9 621.7 L1182.9 623.9 L1183.9 626.1 L1184.9 628.3 L1185.9 630.4 L1186.9 632.5 L1187.9 634.7 L1188.9 636.8 L1189.9 638.8 L1190.9 640.7 L1191.9 642.4 L1192.9 644.0 L1193.9 645.5 L1194.9 646.9 L1195.9 648.2 L1196.9 649.3 L1197.9 650.2 L1198.9 650.7 L1199.9 650.9 L1200.9 650.7 L1201.9 650.2 L1202.9 649.5 L1203.9 648.6 L1204.9 647.5 L1205.9 646.4 L1206.9 645.1 L1207.9 643.7 L1208.9 642.1 L1209.9 640.3 L1210.9 638.2 L1211.9 636.0 L1212.9 633.4 L1213.9 630.4 L1214.9 627.0 L1215.9 623.2 L1216.9 619.0 L1217.9 614.8 L1218.9 610.7 L1219.9 606.7 L1220.9 603.0 L1221.9 599.5 L1222.9 596.2 L1223.9 593.0 L1224.9 589.9 L1225.9 586.9 L1226.9 584.0 L1227.9 581.2 L1228.9 578.4 L1229.9 575.8 L1230.9 573.2 L1231.9 570.9 L1232.9 568.9 L1233.9 567.0 L1234.9 565.5 L1235.9 564.0 L1236.9 562.7 L1237.9 561.5 L1238.9 560.4 L1239.9 559.5 L1240.9 558.7 L1241.9 558.2 L1242.9 557.9 L1243.9 557.9 L1244.9 558.2 L1245.9 558.6 L1246.9 559.2 L1247.9 560.0 L1248.9 560.9 L1249.9 561.9 L1250.9 563.0 L1251.9 564.2 L1252.9 565.5 L1253.9 567.0 L1254.9 568.8 L1255.9 570.8 L1256.9 573.0 L1257.9 575.6 L1258.9 578.5 L1259.9 581.9 L1260.9 585.8 L1261.9 589.9 L1262.9 594.0 L1263.9 598.1 L1264.9 602.1 L1265.9 605.8 L1266.9 609.3 L1267.9 612.5 L1268.9 615.4 L1269.9 618.0 L1270.9 620.3 L1271.9 622.5 L1272.9 624.3 L1273.9 625.9 L1274.9 627.3 L1275.9 628.5 L1276.9 629.6 L1277.9 630.6 L1278.9 631.4 L1279.9 632.2 L1280.9 632.7 L1281.9 633.1 L1282.9 633.3 L1282.9 633.3 L1282.9 696 L825 696 L825 595.4 Z" fill="url(#g2)"/>
<path d="M827.7 693.2 L828.7 693.1 L829.7 692.9 L830.7 692.6 L831.7 692.2 L832.7 691.7 L833.7 691.1 L834.7 690.4 L835.7 689.6 L836.7 688.6 L837.7 687.5 L838.7 686.2 L839.7 684.9 L840.7 683.4 L841.7 681.9 L842.7 680.2 L843.7 678.4 L844.7 676.3 L845.7 674.0 L846.7 671.2 L847.7 668.1 L848.7 664.7 L849.7 661.2 L850.7 657.5 L851.7 653.6 L852.7 649.3 L853.7 644.7 L854.7 639.7 L855.7 634.6 L856.7 629.7 L857.7 625.7 L858.7 623.0 L859.7 621.5 L860.7 620.8 L861.7 620.4 L862.7 620.2 L863.7 620.1 L864.7 620.0 L865.7 619.9 L866.7 619.8 L867.7 619.7 L868.7 619.7 L869.7 619.6 L870.7 619.6 L871.7 619.5 L872.7 619.5 L873.7 619.5 L874.7 619.6 L875.7 619.6 L876.7 619.7 L877.7 619.7 L878.7 619.8 L879.7 619.9 L880.7 620.1 L881.7 620.2 L882.7 620.3 L883.7 620.5 L884.7 620.6 L885.7 620.8 L886.7 621.1 L887.7 621.3 L888.7 621.6 L889.7 621.9 L890.7 622.1 L891.7 622.4 L892.7 622.7 L893.7 623.0 L894.7 623.3 L895.7 623.6 L896.7 623.9 L897.7 624.2 L898.7 624.5 L899.7 624.9 L900.7 625.3 L901.7 625.7 L902.7 626.1 L903.7 626.5 L904.7 626.9 L905.7 627.3 L906.7 627.7 L907.7 628.1 L908.7 628.6 L909.7 629.0 L910.7 629.4 L911.7 629.8 L912.7 630.2 L913.7 630.7 L914.7 631.1 L915.7 631.6 L916.7 632.0 L917.7 632.5 L918.7 633.1 L919.7 633.6 L920.7 634.3 L921.7 635.0 L922.7 635.8 L923.7 636.7 L924.7 637.8 L925.7 639.0 L926.7 640.2 L927.7 641.5 L928.7 642.7 L929.7 643.8 L930.7 644.7 L931.7 645.5 L932.7 646.2 L933.7 646.8 L934.7 647.4 L935.7 648.0 L936.7 648.5 L937.7 649.0 L938.7 649.5 L939.7 650.1 L940.7 650.6 L941.7 651.1 L942.7 651.7 L943.7 652.3 L944.7 652.9 L945.7 653.5 L946.7 654.0 L947.7 654.6 L948.7 655.0 L949.7 655.4 L950.7 655.6 L951.7 655.8 L952.7 655.9 L953.7 655.9 L954.7 655.8 L955.7 655.7 L956.7 655.5 L957.7 655.3 L958.7 655.1 L959.7 654.8 L960.7 654.5 L961.7 654.1 L962.7 653.7 L963.7 653.1 L964.7 652.3 L965.7 651.5 L966.7 650.6 L967.7 649.6 L968.7 648.5 L969.7 647.5 L970.7 646.4 L971.7 645.3 L972.7 644.3 L973.7 643.3 L974.7 642.2 L975.7 641.1 L976.7 640.0 L977.7 638.9 L978.7 637.9 L979.7 636.9 L980.7 636.0 L981.7 635.2 L982.7 634.6 L983.7 634.0 L984.7 633.5 L985.7 633.0 L986.7 632.5 L987.7 632.0 L988.7 631.6 L989.7 631.3 L990.7 631.0 L991.7 630.8 L992.7 630.6 L993.7 630.5 L994.7 630.5 L995.7 630.5 L996.7 630.6 L997.7 630.8 L998.7 631.0 L999.7 631.2 L1000.7 631.5 L1001.7 631.8 L1002.7 632.1 L1003.7 632.4 L1004.7 632.7 L1005.7 633.1 L1006.7 633.4 L1007.7 633.7 L1008.7 634.0 L1009.7 634.4 L1010.7 634.8 L1011.7 635.1 L1012.7 635.5 L1013.7 636.0 L1014.7 636.4 L1015.7 636.8 L1016.7 637.2 L1017.7 637.6 L1018.7 638.0 L1019.7 638.3 L1020.7 638.7 L1021.7 638.9 L1022.7 639.2 L1023.7 639.5 L1024.7 639.7 L1025.7 639.9 L1026.7 640.2 L1027.7 640.4 L1028.7 640.6 L1029.7 640.7 L1030.7 640.9 L1031.7 641.0 L1032.7 641.1 L1033.7 641.1 L1034.7 641.1 L1035.7 641.1 L1036.7 641.0 L1037.7 640.8 L1038.7 640.6 L1039.7 640.4 L1040.7 640.2 L1041.7 639.9 L1042.7 639.6 L1043.7 639.4 L1044.7 639.1 L1045.7 638.9 L1046.7 638.6 L1047.7 638.3 L1048.7 638.1 L1049.7 637.8 L1050.7 637.5 L1051.7 637.2 L1052.7 636.9 L1053.7 636.6 L1054.7 636.3 L1055.7 636.0 L1056.7 635.7 L1057.7 635.4 L1058.7 635.1 L1059.7 634.8 L1060.7 634.5 L1061.7 634.2 L1062.7 634.0 L1063.7 633.7 L1064.7 633.4 L1065.7 633.1 L1066.7 632.8 L1067.7 632.5 L1068.7 632.2 L1069.7 631.9 L1070.7 631.6 L1071.7 631.3 L1072.7 631.1 L1073.7 630.8 L1074.7 630.5 L1075.7 630.1 L1076.7 629.8 L1077.7 629.5 L1078.7 629.2 L1079.7 628.9 L1080.7 628.5 L1081.7 628.2 L1082.7 627.9 L1083.7 627.6 L1084.7 627.3 L1085.7 627.0 L1086.7 626.7 L1087.7 626.4 L1088.7 626.1 L1089.7 625.9 L1090.7 625.6 L1091.7 625.3 L1092.7 625.1 L1093.7 624.8 L1094.7 624.6 L1095.7 624.3 L1096.7 624.1 L1097.7 623.9 L1098.7 623.8 L1099.7 623.7 L1100.7 623.5 L1101.7 623.4 L1102.7 623.3 L1103.7 623.2 L1104.7 623.2 L1105.7 623.1 L1106.7 623.1 L1107.7 623.0 L1108.7 623.0 L1109.7 623.1 L1110.7 623.1 L1111.7 623.2 L1112.7 623.3 L1113.7 623.5 L1114.7 623.6 L1115.7 623.8 L1116.7 624.0 L1117.7 624.1 L1118.7 624.4 L1119.7 624.6 L1120.7 624.9 L1121.7 625.2 L1122.7 625.5 L1123.7 625.9 L1124.7 626.4 L1125.7 626.9 L1126.7 627.5 L1127.7 628.1 L1128.7 628.8 L1129.7 629.6 L1130.7 630.3 L1131.7 631.1 L1132.7 631.9 L1133.7 632.7 L1134.7 633.6 L1135.7 634.5 L1136.7 635.4 L1137.7 636.5 L1138.7 637.6 L1139.7 638.8 L1140.7 640.1 L1141.7 641.5 L1142.7 643.1 L1143.7 645.0 L1144.7 647.0 L1145.7 649.2 L1146.7 651.0 L1147.7 652.4 L1148.7 653.2 L1149.7 653.6 L1150.7 653.8 L1151.7 654.0 L1152.7 654.1 L1153.7 654.2 L1154.7 654.3 L1155.7 654.4 L1156.7 654.4 L1157.7 654.4 L1158.7 654.5 L1159.7 654.5 L1160.7 654.5 L1161.7 654.5 L1162.7 654.6 L1163.7 654.6 L1164.7 654.6 L1165.7 654.6 L1166.7 654.6 L1167.7 654.6 L1168.7 654.6 L1169.7 654.7 L1170.7 654.7 L1171.7 654.7 L1172.7 654.7 L1173.7 654.7 L1174.7 654.7 L1175.7 654.7 L1176.7 654.7 L1177.7 654.7 L1178.7 654.7 L1179.7 654.7 L1180.7 654.8 L1181.7 654.8 L1182.7 654.8 L1183.7 654.8 L1184.7 654.8 L1185.7 654.8 L1186.7 654.9 L1187.7 654.9 L1188.7 654.9 L1189.7 654.9 L1190.7 655.0 L1191.7 655.0 L1192.7 655.1 L1193.7 655.1 L1194.7 655.1 L1195.7 655.2 L1196.7 655.2 L1197.7 655.2 L1198.7 655.3 L1199.7 655.3 L1200.7 655.3 L1201.7 655.3 L1202.7 655.3 L1203.7 655.3 L1204.7 655.3 L1205.7 655.3 L1206.7 655.3 L1207.7 655.3 L1208.7 655.3 L1209.7 655.3 L1210.7 655.3 L1211.7 655.3 L1212.7 655.2 L1213.7 654.9 L1214.7 654.4 L1215.7 653.7 L1216.7 652.7 L1217.7 651.6 L1218.7 650.5 L1219.7 649.6 L1220.7 648.8 L1221.7 648.1 L1222.7 647.5 L1223.7 646.9 L1224.7 646.4 L1225.7 645.9 L1226.7 645.4 L1227.7 645.0 L1228.7 644.6 L1229.7 644.3 L1230.7 644.0 L1231.7 643.7 L1232.7 643.4 L1233.7 643.1 L1234.7 642.8 L1235.7 642.6 L1236.7 642.3 L1237.7 642.1 L1238.7 642.0 L1239.7 641.8 L1240.7 641.7 L1241.7 641.7 L1242.7 641.6 L1243.7 641.6 L1244.7 641.7 L1245.7 641.7 L1246.7 641.8 L1247.7 641.9 L1248.7 642.0 L1249.7 642.1 L1250.7 642.2 L1251.7 642.3 L1252.7 642.5 L1253.7 642.6 L1254.7 642.8 L1255.7 642.9 L1256.7 643.1 L1257.7 643.3 L1258.7 643.5 L1259.7 643.7 L1260.7 644.0 L1261.7 644.3 L1262.7 644.6 L1263.7 645.0 L1264.7 645.4 L1265.7 645.9 L1266.7 646.4 L1267.7 647.0 L1268.7 647.5 L1269.7 648.1 L1270.7 648.7 L1271.7 649.3 L1272.7 649.8 L1273.7 650.4 L1274.7 651.0 L1275.7 651.6 L1276.7 652.3 L1277.7 652.9 L1278.7 653.5 L1279.7 654.2 L1280.7 654.9 L1281.7 655.4 L1282.7 655.9 L1282.9 656.0" fill="none" stroke="#b3b3b7" stroke-width="1.4" stroke-dasharray="3 5"/>
<g fill="none" stroke="#84c443" stroke-width="1.25"><path d="M826.9 595.6 L827.9 595.7 L828.9 596.0 L829.9 596.3 L830.9 596.7 L831.9 597.2 L832.9 597.6 L833.9 598.1 L834.9 598.7 L835.9 599.2 L836.9 599.8 L837.9 600.5 L838.9 601.2 L839.9 602.0 L840.9 602.9 L841.9 603.8 L842.9 604.8 L843.9 605.8 L844.9 606.8 L845.9 607.8 L846.9 608.9 L847.9 610.0 L848.9 611.2 L849.9 612.4 L850.9 613.8 L851.9 615.1 L852.9 616.4 L853.9 617.6 L854.9 618.6 L855.9 619.4 L856.9 619.9 L857.9 620.2 L858.9 620.3 L859.9 620.4 L860.9 620.4 L861.9 620.5 L862.9 620.5 L863.9 620.5 L864.9 620.5 L865.9 620.5 L866.9 620.6 L867.9 620.6 L868.9 620.6 L869.9 620.6 L870.9 620.6 L871.9 620.6 L872.9 620.7 L873.9 620.7 L874.9 620.7 L875.9 620.7 L876.9 620.8 L877.9 620.8 L878.9 620.8 L879.9 620.9 L880.9 620.9 L881.9 620.9 L882.9 620.9 L883.9 621.0 L884.9 621.0 L885.9 621.0 L886.9 621.1 L887.9 621.1 L888.9 621.2 L889.9 621.2 L890.9 621.2 L891.9 621.3 L892.9 621.3 L893.9 621.3 L894.9 621.4 L895.9 621.4 L896.9 621.4 L897.9 621.5 L898.9 621.5 L899.9 621.5 L900.9 621.6 L901.9 621.6 L902.9 621.6 L903.9 621.7 L904.9 621.7 L905.9 621.8 L906.9 621.8 L907.9 621.8 L908.9 621.8 L909.9 621.9 L910.9 621.9 L911.9 621.9 L912.9 622.0 L913.9 622.0 L914.9 622.0 L915.9 622.1 L916.9 622.1 L917.9 622.1 L918.9 622.2 L919.9 622.2 L920.9 622.2 L921.9 622.3 L922.9 622.3 L923.9 622.4 L924.9 622.4 L925.9 622.4 L926.9 622.5 L927.9 622.5 L928.9 622.6 L929.9 622.6 L930.9 622.6 L931.9 622.7 L932.9 622.7 L933.9 622.8 L934.9 622.8 L935.9 622.9 L936.9 622.9 L937.9 623.0 L938.9 623.0 L939.9 623.1 L940.9 623.1 L941.9 623.2 L942.9 623.3 L943.9 623.3 L944.9 623.4 L945.9 623.4 L946.9 623.5 L947.9 623.6 L948.9 623.6 L949.9 623.7 L950.9 623.7 L951.9 623.8 L952.9 623.9 L953.9 623.9 L954.9 624.0 L955.9 624.1 L956.9 624.1 L957.9 624.2 L958.9 624.3 L959.9 624.3 L960.9 624.4 L961.9 624.5 L962.9 624.6 L963.9 624.6 L964.9 624.7 L965.9 624.8 L966.9 624.9 L967.9 624.9 L968.9 625.0 L969.9 625.1 L970.9 625.1 L971.9 625.2 L972.9 625.3 L973.9 625.4 L974.9 625.4 L975.9 625.5 L976.9 625.6 L977.9 625.7 L978.9 625.8 L979.9 625.9 L980.9 626.0 L981.9 626.1 L982.9 626.2 L983.9 626.4 L984.9 626.5 L985.9 626.7 L986.9 626.8 L987.9 627.0 L988.9 627.3 L989.9 627.5 L990.9 627.8 L991.9 628.1 L992.9 628.5 L993.9 628.8 L994.9 629.2 L995.9 629.5 L996.9 629.9 L997.9 630.4 L998.9 630.8 L999.9 631.3 L1000.9 631.8 L1001.9 632.4 L1002.9 633.0 L1003.9 633.6 L1004.9 634.2 L1005.9 634.9 L1006.9 635.5 L1007.9 636.3 L1008.9 637.0 L1009.9 637.9 L1010.9 638.8 L1011.9 639.8 L1012.9 640.8 L1013.9 641.9 L1014.9 643.0 L1015.9 644.1 L1016.9 645.2 L1017.9 646.3 L1018.9 647.3 L1019.9 648.2 L1020.9 649.2 L1021.9 650.1 L1022.9 651.0 L1023.9 652.0 L1024.9 653.0 L1025.9 653.9 L1026.9 654.8 L1027.9 655.6 L1028.9 656.2 L1029.9 656.8 L1030.9 657.2 L1031.9 657.4 L1032.9 657.4 L1033.9 657.2 L1034.9 656.8 L1035.9 656.1 L1036.9 655.3 L1037.9 654.3 L1038.9 653.2 L1039.9 652.0 L1040.9 650.7 L1041.9 649.3 L1042.9 647.5 L1043.9 645.5 L1044.9 643.3 L1045.9 640.9 L1046.9 638.3 L1047.9 635.6 L1048.9 632.9 L1049.9 630.2 L1050.9 627.5 L1051.9 624.6 L1052.9 621.7 L1053.9 618.7 L1054.9 615.7 L1055.9 612.8 L1056.9 609.9 L1057.9 607.3 L1058.9 604.8 L1059.9 602.4 L1060.9 600.1 L1061.9 598.0 L1062.9 596.1 L1063.9 594.4 L1064.9 592.9 L1065.9 591.6 L1066.9 590.4 L1067.9 589.4 L1068.9 588.4 L1069.9 587.5 L1070.9 586.8 L1071.9 586.2 L1072.9 585.9 L1073.9 585.7 L1074.9 585.7 L1075.9 585.9 L1076.9 586.2 L1077.9 586.6 L1078.9 587.1 L1079.9 587.7 L1080.9 588.4 L1081.9 589.1 L1082.9 590.0 L1083.9 591.2 L1084.9 592.5 L1085.9 594.2 L1086.9 596.1 L1087.9 598.1 L1088.9 600.3 L1089.9 602.5 L1090.9 604.9 L1091.9 607.4 L1092.9 610.1 L1093.9 612.9 L1094.9 615.8 L1095.9 618.7 L1096.9 621.7 L1097.9 624.7 L1098.9 627.8 L1099.9 630.9 L1100.9 634.0 L1101.9 636.9 L1102.9 639.6 L1103.9 642.2 L1104.9 644.6 L1105.9 646.9 L1106.9 649.0 L1107.9 650.9 L1108.9 652.6 L1109.9 654.0 L1110.9 655.3 L1111.9 656.5 L1112.9 657.5 L1113.9 658.3 L1114.9 658.9 L1115.9 659.2 L1116.9 659.2 L1117.9 659.0 L1118.9 658.6 L1119.9 658.1 L1120.9 657.5 L1121.9 656.8 L1122.9 656.0 L1123.9 655.0 L1124.9 653.8 L1125.9 652.3 L1126.9 650.6 L1127.9 648.7 L1128.9 646.7 L1129.9 644.5 L1130.9 642.2 L1131.9 639.6 L1132.9 636.8 L1133.9 633.8 L1134.9 630.7 L1135.9 627.4 L1136.9 623.9 L1137.9 620.4 L1138.9 616.8 L1139.9 613.2 L1140.9 609.7 L1141.9 606.4 L1142.9 603.5 L1143.9 600.7 L1144.9 598.2 L1145.9 595.8 L1146.9 593.6 L1147.9 591.6 L1148.9 589.9 L1149.9 588.4 L1150.9 587.1 L1151.9 585.9 L1152.9 584.8 L1153.9 583.9 L1154.9 583.1 L1155.9 582.4 L1156.9 582.0 L1157.9 581.8 L1158.9 581.8 L1159.9 582.1 L1160.9 582.5 L1161.9 583.1 L1162.9 583.8 L1163.9 584.6 L1164.9 585.5 L1165.9 586.5 L1166.9 587.6 L1167.9 589.0 L1168.9 590.5 L1169.9 592.2 L1170.9 594.1 L1171.9 596.0 L1172.9 598.1 L1173.9 600.5 L1174.9 603.0 L1175.9 605.8 L1176.9 608.7 L1177.9 611.5 L1178.9 614.3 L1179.9 616.9 L1180.9 619.3 L1181.9 621.7 L1182.9 623.9 L1183.9 626.1 L1184.9 628.3 L1185.9 630.4 L1186.9 632.5 L1187.9 634.7 L1188.9 636.8 L1189.9 638.8 L1190.9 640.7 L1191.9 642.4 L1192.9 644.0 L1193.9 645.5 L1194.9 646.9 L1195.9 648.2 L1196.9 649.3 L1197.9 650.2 L1198.9 650.7 L1199.9 650.9 L1200.9 650.7 L1201.9 650.2 L1202.9 649.5 L1203.9 648.6 L1204.9 647.5 L1205.9 646.4 L1206.9 645.1 L1207.9 643.7 L1208.9 642.1 L1209.9 640.3 L1210.9 638.2 L1211.9 636.0 L1212.9 633.4 L1213.9 630.4 L1214.9 627.0 L1215.9 623.2 L1216.9 619.0 L1217.9 614.8 L1218.9 610.7 L1219.9 606.7 L1220.9 603.0 L1221.9 599.5 L1222.9 596.2 L1223.9 593.0 L1224.9 589.9 L1225.9 586.9 L1226.9 584.0 L1227.9 581.2 L1228.9 578.4 L1229.9 575.8 L1230.9 573.2 L1231.9 570.9 L1232.9 568.9 L1233.9 567.0 L1234.9 565.5 L1235.9 564.0 L1236.9 562.7 L1237.9 561.5 L1238.9 560.4 L1239.9 559.5 L1240.9 558.7 L1241.9 558.2 L1242.9 557.9 L1243.9 557.9 L1244.9 558.2 L1245.9 558.6 L1246.9 559.2 L1247.9 560.0 L1248.9 560.9 L1249.9 561.9 L1250.9 563.0 L1251.9 564.2 L1252.9 565.5 L1253.9 567.0 L1254.9 568.8 L1255.9 570.8 L1256.9 573.0 L1257.9 575.6 L1258.9 578.5 L1259.9 581.9 L1260.9 585.8 L1261.9 589.9 L1262.9 594.0 L1263.9 598.1 L1264.9 602.1 L1265.9 605.8 L1266.9 609.3 L1267.9 612.5 L1268.9 615.4 L1269.9 618.0 L1270.9 620.3 L1271.9 622.5 L1272.9 624.3 L1273.9 625.9 L1274.9 627.3 L1275.9 628.5 L1276.9 629.6 L1277.9 630.6 L1278.9 631.4 L1279.9 632.2 L1280.9 632.7 L1281.9 633.1 L1282.9 633.3 L1282.9 633.3"/><path transform="translate(-0.45 0)" d="M826.9 595.6 L827.9 595.7 L828.9 596.0 L829.9 596.3 L830.9 596.7 L831.9 597.2 L832.9 597.6 L833.9 598.1 L834.9 598.7 L835.9 599.2 L836.9 599.8 L837.9 600.5 L838.9 601.2 L839.9 602.0 L840.9 602.9 L841.9 603.8 L842.9 604.8 L843.9 605.8 L844.9 606.8 L845.9 607.8 L846.9 608.9 L847.9 610.0 L848.9 611.2 L849.9 612.4 L850.9 613.8 L851.9 615.1 L852.9 616.4 L853.9 617.6 L854.9 618.6 L855.9 619.4 L856.9 619.9 L857.9 620.2 L858.9 620.3 L859.9 620.4 L860.9 620.4 L861.9 620.5 L862.9 620.5 L863.9 620.5 L864.9 620.5 L865.9 620.5 L866.9 620.6 L867.9 620.6 L868.9 620.6 L869.9 620.6 L870.9 620.6 L871.9 620.6 L872.9 620.7 L873.9 620.7 L874.9 620.7 L875.9 620.7 L876.9 620.8 L877.9 620.8 L878.9 620.8 L879.9 620.9 L880.9 620.9 L881.9 620.9 L882.9 620.9 L883.9 621.0 L884.9 621.0 L885.9 621.0 L886.9 621.1 L887.9 621.1 L888.9 621.2 L889.9 621.2 L890.9 621.2 L891.9 621.3 L892.9 621.3 L893.9 621.3 L894.9 621.4 L895.9 621.4 L896.9 621.4 L897.9 621.5 L898.9 621.5 L899.9 621.5 L900.9 621.6 L901.9 621.6 L902.9 621.6 L903.9 621.7 L904.9 621.7 L905.9 621.8 L906.9 621.8 L907.9 621.8 L908.9 621.8 L909.9 621.9 L910.9 621.9 L911.9 621.9 L912.9 622.0 L913.9 622.0 L914.9 622.0 L915.9 622.1 L916.9 622.1 L917.9 622.1 L918.9 622.2 L919.9 622.2 L920.9 622.2 L921.9 622.3 L922.9 622.3 L923.9 622.4 L924.9 622.4 L925.9 622.4 L926.9 622.5 L927.9 622.5 L928.9 622.6 L929.9 622.6 L930.9 622.6 L931.9 622.7 L932.9 622.7 L933.9 622.8 L934.9 622.8 L935.9 622.9 L936.9 622.9 L937.9 623.0 L938.9 623.0 L939.9 623.1 L940.9 623.1 L941.9 623.2 L942.9 623.3 L943.9 623.3 L944.9 623.4 L945.9 623.4 L946.9 623.5 L947.9 623.6 L948.9 623.6 L949.9 623.7 L950.9 623.7 L951.9 623.8 L952.9 623.9 L953.9 623.9 L954.9 624.0 L955.9 624.1 L956.9 624.1 L957.9 624.2 L958.9 624.3 L959.9 624.3 L960.9 624.4 L961.9 624.5 L962.9 624.6 L963.9 624.6 L964.9 624.7 L965.9 624.8 L966.9 624.9 L967.9 624.9 L968.9 625.0 L969.9 625.1 L970.9 625.1 L971.9 625.2 L972.9 625.3 L973.9 625.4 L974.9 625.4 L975.9 625.5 L976.9 625.6 L977.9 625.7 L978.9 625.8 L979.9 625.9 L980.9 626.0 L981.9 626.1 L982.9 626.2 L983.9 626.4 L984.9 626.5 L985.9 626.7 L986.9 626.8 L987.9 627.0 L988.9 627.3 L989.9 627.5 L990.9 627.8 L991.9 628.1 L992.9 628.5 L993.9 628.8 L994.9 629.2 L995.9 629.5 L996.9 629.9 L997.9 630.4 L998.9 630.8 L999.9 631.3 L1000.9 631.8 L1001.9 632.4 L1002.9 633.0 L1003.9 633.6 L1004.9 634.2 L1005.9 634.9 L1006.9 635.5 L1007.9 636.3 L1008.9 637.0 L1009.9 637.9 L1010.9 638.8 L1011.9 639.8 L1012.9 640.8 L1013.9 641.9 L1014.9 643.0 L1015.9 644.1 L1016.9 645.2 L1017.9 646.3 L1018.9 647.3 L1019.9 648.2 L1020.9 649.2 L1021.9 650.1 L1022.9 651.0 L1023.9 652.0 L1024.9 653.0 L1025.9 653.9 L1026.9 654.8 L1027.9 655.6 L1028.9 656.2 L1029.9 656.8 L1030.9 657.2 L1031.9 657.4 L1032.9 657.4 L1033.9 657.2 L1034.9 656.8 L1035.9 656.1 L1036.9 655.3 L1037.9 654.3 L1038.9 653.2 L1039.9 652.0 L1040.9 650.7 L1041.9 649.3 L1042.9 647.5 L1043.9 645.5 L1044.9 643.3 L1045.9 640.9 L1046.9 638.3 L1047.9 635.6 L1048.9 632.9 L1049.9 630.2 L1050.9 627.5 L1051.9 624.6 L1052.9 621.7 L1053.9 618.7 L1054.9 615.7 L1055.9 612.8 L1056.9 609.9 L1057.9 607.3 L1058.9 604.8 L1059.9 602.4 L1060.9 600.1 L1061.9 598.0 L1062.9 596.1 L1063.9 594.4 L1064.9 592.9 L1065.9 591.6 L1066.9 590.4 L1067.9 589.4 L1068.9 588.4 L1069.9 587.5 L1070.9 586.8 L1071.9 586.2 L1072.9 585.9 L1073.9 585.7 L1074.9 585.7 L1075.9 585.9 L1076.9 586.2 L1077.9 586.6 L1078.9 587.1 L1079.9 587.7 L1080.9 588.4 L1081.9 589.1 L1082.9 590.0 L1083.9 591.2 L1084.9 592.5 L1085.9 594.2 L1086.9 596.1 L1087.9 598.1 L1088.9 600.3 L1089.9 602.5 L1090.9 604.9 L1091.9 607.4 L1092.9 610.1 L1093.9 612.9 L1094.9 615.8 L1095.9 618.7 L1096.9 621.7 L1097.9 624.7 L1098.9 627.8 L1099.9 630.9 L1100.9 634.0 L1101.9 636.9 L1102.9 639.6 L1103.9 642.2 L1104.9 644.6 L1105.9 646.9 L1106.9 649.0 L1107.9 650.9 L1108.9 652.6 L1109.9 654.0 L1110.9 655.3 L1111.9 656.5 L1112.9 657.5 L1113.9 658.3 L1114.9 658.9 L1115.9 659.2 L1116.9 659.2 L1117.9 659.0 L1118.9 658.6 L1119.9 658.1 L1120.9 657.5 L1121.9 656.8 L1122.9 656.0 L1123.9 655.0 L1124.9 653.8 L1125.9 652.3 L1126.9 650.6 L1127.9 648.7 L1128.9 646.7 L1129.9 644.5 L1130.9 642.2 L1131.9 639.6 L1132.9 636.8 L1133.9 633.8 L1134.9 630.7 L1135.9 627.4 L1136.9 623.9 L1137.9 620.4 L1138.9 616.8 L1139.9 613.2 L1140.9 609.7 L1141.9 606.4 L1142.9 603.5 L1143.9 600.7 L1144.9 598.2 L1145.9 595.8 L1146.9 593.6 L1147.9 591.6 L1148.9 589.9 L1149.9 588.4 L1150.9 587.1 L1151.9 585.9 L1152.9 584.8 L1153.9 583.9 L1154.9 583.1 L1155.9 582.4 L1156.9 582.0 L1157.9 581.8 L1158.9 581.8 L1159.9 582.1 L1160.9 582.5 L1161.9 583.1 L1162.9 583.8 L1163.9 584.6 L1164.9 585.5 L1165.9 586.5 L1166.9 587.6 L1167.9 589.0 L1168.9 590.5 L1169.9 592.2 L1170.9 594.1 L1171.9 596.0 L1172.9 598.1 L1173.9 600.5 L1174.9 603.0 L1175.9 605.8 L1176.9 608.7 L1177.9 611.5 L1178.9 614.3 L1179.9 616.9 L1180.9 619.3 L1181.9 621.7 L1182.9 623.9 L1183.9 626.1 L1184.9 628.3 L1185.9 630.4 L1186.9 632.5 L1187.9 634.7 L1188.9 636.8 L1189.9 638.8 L1190.9 640.7 L1191.9 642.4 L1192.9 644.0 L1193.9 645.5 L1194.9 646.9 L1195.9 648.2 L1196.9 649.3 L1197.9 650.2 L1198.9 650.7 L1199.9 650.9 L1200.9 650.7 L1201.9 650.2 L1202.9 649.5 L1203.9 648.6 L1204.9 647.5 L1205.9 646.4 L1206.9 645.1 L1207.9 643.7 L1208.9 642.1 L1209.9 640.3 L1210.9 638.2 L1211.9 636.0 L1212.9 633.4 L1213.9 630.4 L1214.9 627.0 L1215.9 623.2 L1216.9 619.0 L1217.9 614.8 L1218.9 610.7 L1219.9 606.7 L1220.9 603.0 L1221.9 599.5 L1222.9 596.2 L1223.9 593.0 L1224.9 589.9 L1225.9 586.9 L1226.9 584.0 L1227.9 581.2 L1228.9 578.4 L1229.9 575.8 L1230.9 573.2 L1231.9 570.9 L1232.9 568.9 L1233.9 567.0 L1234.9 565.5 L1235.9 564.0 L1236.9 562.7 L1237.9 561.5 L1238.9 560.4 L1239.9 559.5 L1240.9 558.7 L1241.9 558.2 L1242.9 557.9 L1243.9 557.9 L1244.9 558.2 L1245.9 558.6 L1246.9 559.2 L1247.9 560.0 L1248.9 560.9 L1249.9 561.9 L1250.9 563.0 L1251.9 564.2 L1252.9 565.5 L1253.9 567.0 L1254.9 568.8 L1255.9 570.8 L1256.9 573.0 L1257.9 575.6 L1258.9 578.5 L1259.9 581.9 L1260.9 585.8 L1261.9 589.9 L1262.9 594.0 L1263.9 598.1 L1264.9 602.1 L1265.9 605.8 L1266.9 609.3 L1267.9 612.5 L1268.9 615.4 L1269.9 618.0 L1270.9 620.3 L1271.9 622.5 L1272.9 624.3 L1273.9 625.9 L1274.9 627.3 L1275.9 628.5 L1276.9 629.6 L1277.9 630.6 L1278.9 631.4 L1279.9 632.2 L1280.9 632.7 L1281.9 633.1 L1282.9 633.3 L1282.9 633.3"/><path transform="translate(0.45 0)" d="M826.9 595.6 L827.9 595.7 L828.9 596.0 L829.9 596.3 L830.9 596.7 L831.9 597.2 L832.9 597.6 L833.9 598.1 L834.9 598.7 L835.9 599.2 L836.9 599.8 L837.9 600.5 L838.9 601.2 L839.9 602.0 L840.9 602.9 L841.9 603.8 L842.9 604.8 L843.9 605.8 L844.9 606.8 L845.9 607.8 L846.9 608.9 L847.9 610.0 L848.9 611.2 L849.9 612.4 L850.9 613.8 L851.9 615.1 L852.9 616.4 L853.9 617.6 L854.9 618.6 L855.9 619.4 L856.9 619.9 L857.9 620.2 L858.9 620.3 L859.9 620.4 L860.9 620.4 L861.9 620.5 L862.9 620.5 L863.9 620.5 L864.9 620.5 L865.9 620.5 L866.9 620.6 L867.9 620.6 L868.9 620.6 L869.9 620.6 L870.9 620.6 L871.9 620.6 L872.9 620.7 L873.9 620.7 L874.9 620.7 L875.9 620.7 L876.9 620.8 L877.9 620.8 L878.9 620.8 L879.9 620.9 L880.9 620.9 L881.9 620.9 L882.9 620.9 L883.9 621.0 L884.9 621.0 L885.9 621.0 L886.9 621.1 L887.9 621.1 L888.9 621.2 L889.9 621.2 L890.9 621.2 L891.9 621.3 L892.9 621.3 L893.9 621.3 L894.9 621.4 L895.9 621.4 L896.9 621.4 L897.9 621.5 L898.9 621.5 L899.9 621.5 L900.9 621.6 L901.9 621.6 L902.9 621.6 L903.9 621.7 L904.9 621.7 L905.9 621.8 L906.9 621.8 L907.9 621.8 L908.9 621.8 L909.9 621.9 L910.9 621.9 L911.9 621.9 L912.9 622.0 L913.9 622.0 L914.9 622.0 L915.9 622.1 L916.9 622.1 L917.9 622.1 L918.9 622.2 L919.9 622.2 L920.9 622.2 L921.9 622.3 L922.9 622.3 L923.9 622.4 L924.9 622.4 L925.9 622.4 L926.9 622.5 L927.9 622.5 L928.9 622.6 L929.9 622.6 L930.9 622.6 L931.9 622.7 L932.9 622.7 L933.9 622.8 L934.9 622.8 L935.9 622.9 L936.9 622.9 L937.9 623.0 L938.9 623.0 L939.9 623.1 L940.9 623.1 L941.9 623.2 L942.9 623.3 L943.9 623.3 L944.9 623.4 L945.9 623.4 L946.9 623.5 L947.9 623.6 L948.9 623.6 L949.9 623.7 L950.9 623.7 L951.9 623.8 L952.9 623.9 L953.9 623.9 L954.9 624.0 L955.9 624.1 L956.9 624.1 L957.9 624.2 L958.9 624.3 L959.9 624.3 L960.9 624.4 L961.9 624.5 L962.9 624.6 L963.9 624.6 L964.9 624.7 L965.9 624.8 L966.9 624.9 L967.9 624.9 L968.9 625.0 L969.9 625.1 L970.9 625.1 L971.9 625.2 L972.9 625.3 L973.9 625.4 L974.9 625.4 L975.9 625.5 L976.9 625.6 L977.9 625.7 L978.9 625.8 L979.9 625.9 L980.9 626.0 L981.9 626.1 L982.9 626.2 L983.9 626.4 L984.9 626.5 L985.9 626.7 L986.9 626.8 L987.9 627.0 L988.9 627.3 L989.9 627.5 L990.9 627.8 L991.9 628.1 L992.9 628.5 L993.9 628.8 L994.9 629.2 L995.9 629.5 L996.9 629.9 L997.9 630.4 L998.9 630.8 L999.9 631.3 L1000.9 631.8 L1001.9 632.4 L1002.9 633.0 L1003.9 633.6 L1004.9 634.2 L1005.9 634.9 L1006.9 635.5 L1007.9 636.3 L1008.9 637.0 L1009.9 637.9 L1010.9 638.8 L1011.9 639.8 L1012.9 640.8 L1013.9 641.9 L1014.9 643.0 L1015.9 644.1 L1016.9 645.2 L1017.9 646.3 L1018.9 647.3 L1019.9 648.2 L1020.9 649.2 L1021.9 650.1 L1022.9 651.0 L1023.9 652.0 L1024.9 653.0 L1025.9 653.9 L1026.9 654.8 L1027.9 655.6 L1028.9 656.2 L1029.9 656.8 L1030.9 657.2 L1031.9 657.4 L1032.9 657.4 L1033.9 657.2 L1034.9 656.8 L1035.9 656.1 L1036.9 655.3 L1037.9 654.3 L1038.9 653.2 L1039.9 652.0 L1040.9 650.7 L1041.9 649.3 L1042.9 647.5 L1043.9 645.5 L1044.9 643.3 L1045.9 640.9 L1046.9 638.3 L1047.9 635.6 L1048.9 632.9 L1049.9 630.2 L1050.9 627.5 L1051.9 624.6 L1052.9 621.7 L1053.9 618.7 L1054.9 615.7 L1055.9 612.8 L1056.9 609.9 L1057.9 607.3 L1058.9 604.8 L1059.9 602.4 L1060.9 600.1 L1061.9 598.0 L1062.9 596.1 L1063.9 594.4 L1064.9 592.9 L1065.9 591.6 L1066.9 590.4 L1067.9 589.4 L1068.9 588.4 L1069.9 587.5 L1070.9 586.8 L1071.9 586.2 L1072.9 585.9 L1073.9 585.7 L1074.9 585.7 L1075.9 585.9 L1076.9 586.2 L1077.9 586.6 L1078.9 587.1 L1079.9 587.7 L1080.9 588.4 L1081.9 589.1 L1082.9 590.0 L1083.9 591.2 L1084.9 592.5 L1085.9 594.2 L1086.9 596.1 L1087.9 598.1 L1088.9 600.3 L1089.9 602.5 L1090.9 604.9 L1091.9 607.4 L1092.9 610.1 L1093.9 612.9 L1094.9 615.8 L1095.9 618.7 L1096.9 621.7 L1097.9 624.7 L1098.9 627.8 L1099.9 630.9 L1100.9 634.0 L1101.9 636.9 L1102.9 639.6 L1103.9 642.2 L1104.9 644.6 L1105.9 646.9 L1106.9 649.0 L1107.9 650.9 L1108.9 652.6 L1109.9 654.0 L1110.9 655.3 L1111.9 656.5 L1112.9 657.5 L1113.9 658.3 L1114.9 658.9 L1115.9 659.2 L1116.9 659.2 L1117.9 659.0 L1118.9 658.6 L1119.9 658.1 L1120.9 657.5 L1121.9 656.8 L1122.9 656.0 L1123.9 655.0 L1124.9 653.8 L1125.9 652.3 L1126.9 650.6 L1127.9 648.7 L1128.9 646.7 L1129.9 644.5 L1130.9 642.2 L1131.9 639.6 L1132.9 636.8 L1133.9 633.8 L1134.9 630.7 L1135.9 627.4 L1136.9 623.9 L1137.9 620.4 L1138.9 616.8 L1139.9 613.2 L1140.9 609.7 L1141.9 606.4 L1142.9 603.5 L1143.9 600.7 L1144.9 598.2 L1145.9 595.8 L1146.9 593.6 L1147.9 591.6 L1148.9 589.9 L1149.9 588.4 L1150.9 587.1 L1151.9 585.9 L1152.9 584.8 L1153.9 583.9 L1154.9 583.1 L1155.9 582.4 L1156.9 582.0 L1157.9 581.8 L1158.9 581.8 L1159.9 582.1 L1160.9 582.5 L1161.9 583.1 L1162.9 583.8 L1163.9 584.6 L1164.9 585.5 L1165.9 586.5 L1166.9 587.6 L1167.9 589.0 L1168.9 590.5 L1169.9 592.2 L1170.9 594.1 L1171.9 596.0 L1172.9 598.1 L1173.9 600.5 L1174.9 603.0 L1175.9 605.8 L1176.9 608.7 L1177.9 611.5 L1178.9 614.3 L1179.9 616.9 L1180.9 619.3 L1181.9 621.7 L1182.9 623.9 L1183.9 626.1 L1184.9 628.3 L1185.9 630.4 L1186.9 632.5 L1187.9 634.7 L1188.9 636.8 L1189.9 638.8 L1190.9 640.7 L1191.9 642.4 L1192.9 644.0 L1193.9 645.5 L1194.9 646.9 L1195.9 648.2 L1196.9 649.3 L1197.9 650.2 L1198.9 650.7 L1199.9 650.9 L1200.9 650.7 L1201.9 650.2 L1202.9 649.5 L1203.9 648.6 L1204.9 647.5 L1205.9 646.4 L1206.9 645.1 L1207.9 643.7 L1208.9 642.1 L1209.9 640.3 L1210.9 638.2 L1211.9 636.0 L1212.9 633.4 L1213.9 630.4 L1214.9 627.0 L1215.9 623.2 L1216.9 619.0 L1217.9 614.8 L1218.9 610.7 L1219.9 606.7 L1220.9 603.0 L1221.9 599.5 L1222.9 596.2 L1223.9 593.0 L1224.9 589.9 L1225.9 586.9 L1226.9 584.0 L1227.9 581.2 L1228.9 578.4 L1229.9 575.8 L1230.9 573.2 L1231.9 570.9 L1232.9 568.9 L1233.9 567.0 L1234.9 565.5 L1235.9 564.0 L1236.9 562.7 L1237.9 561.5 L1238.9 560.4 L1239.9 559.5 L1240.9 558.7 L1241.9 558.2 L1242.9 557.9 L1243.9 557.9 L1244.9 558.2 L1245.9 558.6 L1246.9 559.2 L1247.9 560.0 L1248.9 560.9 L1249.9 561.9 L1250.9 563.0 L1251.9 564.2 L1252.9 565.5 L1253.9 567.0 L1254.9 568.8 L1255.9 570.8 L1256.9 573.0 L1257.9 575.6 L1258.9 578.5 L1259.9 581.9 L1260.9 585.8 L1261.9 589.9 L1262.9 594.0 L1263.9 598.1 L1264.9 602.1 L1265.9 605.8 L1266.9 609.3 L1267.9 612.5 L1268.9 615.4 L1269.9 618.0 L1270.9 620.3 L1271.9 622.5 L1272.9 624.3 L1273.9 625.9 L1274.9 627.3 L1275.9 628.5 L1276.9 629.6 L1277.9 630.6 L1278.9 631.4 L1279.9 632.2 L1280.9 632.7 L1281.9 633.1 L1282.9 633.3 L1282.9 633.3"/></g>
</svg>
<div class="edge"></div>
</div></body></html>
